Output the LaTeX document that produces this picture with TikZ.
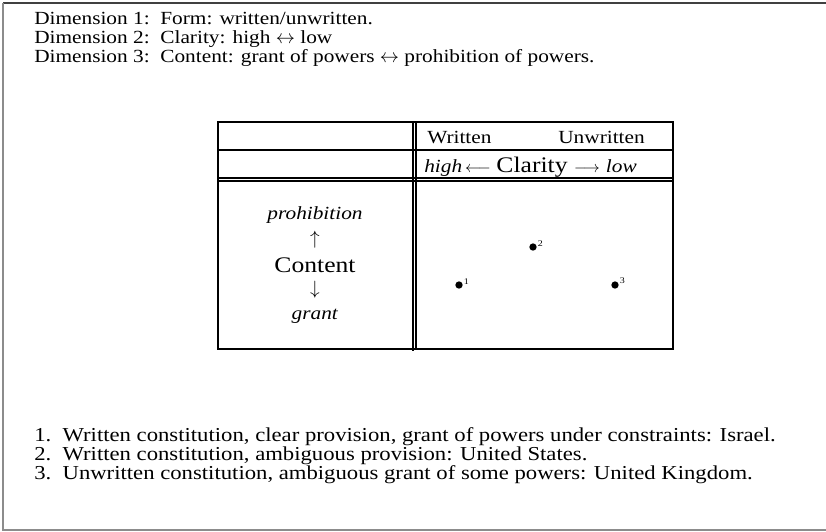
\documentclass[tikz,border=0pt]{standalone}
\usepackage{fontspec}
\setmainfont[FakeStretch=1.15]{Liberation Serif}
\usepackage{tikz}

\begin{document}
\begin{tikzpicture}[x=0.75pt,y=-0.75pt,
		line/.style={anchor=base west,inner sep=0pt,text height=9.6pt,text depth=3pt,font=\fontsize{13.9}{15}\selectfont},
		item/.style={anchor=base west,inner sep=0pt,text height=10pt,text depth=3pt,font=\fontsize{14.8}{15}\selectfont},
		cell/.style={inner sep=0pt,font=\fontsize{13.9}{15}\selectfont},
		bigcell/.style={inner sep=0pt,font=\fontsize{16.7}{18}\selectfont},
		vert/.style={inner sep=0pt,font=\fontsize{14.5}{16}\selectfont},
		harrow/.style={inner sep=0pt,font=\fontsize{12}{14}\selectfont},
		case/.style={circle,fill=black,inner sep=0pt,minimum size=5.5pt},
		caselabel/.style={anchor=south west,inner sep=0.5pt,font=\fontsize{6.5}{7}\selectfont}]
		\useasboundingbox (0,0) rectangle (826,532);

		% Frame
		\draw[black!75,line width=0.9pt] (826,3) -- (3,3);
		\draw[black!45,line width=0.9pt] (3,3) -- (3,530) -- (826,530);

		% Dimensions
		\node[line] (dimA) at (34,24) {Dimension 1:\ \ Form: written/unwritten.};
		\node[line] (dimB) at (34,43) {Dimension 2:\ \ Clarity: high \(\leftrightarrow\) low};
		\node[line] (dimC) at (34,62) {Dimension 3:\ \ Content: grant of powers \(\leftrightarrow\) prohibition of powers.};

		% Table lines
		\draw[thick] (218,122) rectangle (673,349);
		\draw[thick] (218,150) -- (673,150);
		\draw[thick] (218,178) -- (673,178);
		\draw[thick] (218,181) -- (673,181);
		\draw[thick] (413,122) -- (413,351);
		\draw[thick] (416,122) -- (416,349);

		% Header cells
		\node[cell,anchor=base west] (written) at (427,143) {Written};
		\node[cell,anchor=base east] (unwritten) at (645,143) {Unwritten};
		\node[cell,anchor=base west] (high) at (424,172) {\textit{high}};
		\node[harrow,anchor=base] (toHigh) at (478,172) {\(\longleftarrow\)};
		\node[bigcell,anchor=base] (clarity) at (532,172) {Clarity};
		\node[harrow,anchor=base] (toLow) at (587,172) {\(\longrightarrow\)};
		\node[cell,anchor=base east] (low) at (637,172) {\textit{low}};

		% Content axis
		\node[cell] (prohib) at (315,215) {\textit{prohibition}};
		\node[vert] (up) at (315,240) {\(\uparrow\)};
		\node[bigcell] (content) at (315,265) {Content};
		\node[vert] (down) at (315,290) {\(\downarrow\)};
		\node[cell] (grant) at (315,316) {\textit{grant}};

		% Cases
		\node[case] (caseA) at (459,285) {};
		\node[case] (caseB) at (533,247) {};
		\node[case] (caseC) at (615,285) {};
		\node[caselabel] at (caseA.east) {1};
		\node[caselabel] at (caseB.east) {2};
		\node[caselabel] at (caseC.east) {3};

		% Cases listed
		\node[item] (itemA) at (34,441) {1.\ \ Written constitution, clear provision, grant of powers under constraints: Israel.};
		\node[item] (itemB) at (34,460) {2.\ \ Written constitution, ambiguous provision: United States.};
		\node[item] (itemC) at (34,479) {3.\ \ Unwritten constitution, ambiguous grant of some powers: United Kingdom.};
\end{tikzpicture}
\end{document}
